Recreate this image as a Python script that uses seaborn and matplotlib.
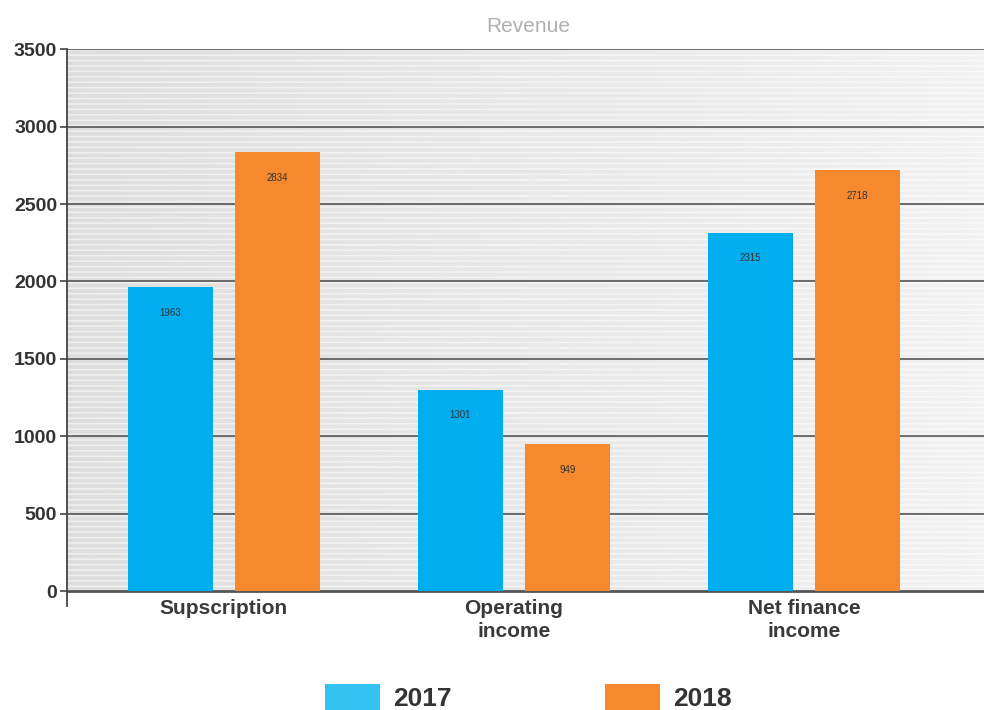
import numpy as np
import pandas as pd
import matplotlib
matplotlib.use("Agg")
import matplotlib.pyplot as plt
import seaborn as sns
from matplotlib.patches import Patch

categories = ["Supscription", "Operating\nincome", "Net finance\nincome"]
years = ["2017", "2018"]
values_2017 = [1963, 1301, 2315]
values_2018 = [2834, 949, 2718]
yticks = [0, 500, 1000, 1500, 2000, 2500, 3000, 3500]

df = pd.DataFrame({
    "category": categories * 2,
    "year": [years[0]] * 3 + [years[1]] * 3,
    "value": values_2017 + values_2018,
})

sns.set_theme(style="white")
plt.rcParams["font.family"] = ["Liberation Sans", "DejaVu Sans"]

colors = {"2017": "#00AEEF", "2018": "#F6892E"}

fig = plt.figure(figsize=(9.84, 7.1), dpi=100)
ax = fig.add_axes([0.068, 0.1676, 0.932, 0.763])

# striped gradient background
h, w = 700, 200
rows = np.arange(h)
stripe = ((rows % 7) < 2).astype(float)[:, None]
grad = np.linspace(0.87, 0.95, w)[None, :]
base = grad * np.ones((h, 1))
img = base + stripe * (1 - base) * 0.55
img = np.clip(img, 0, 1)
rgb = np.dstack([img, img, img])
ax.imshow(rgb, extent=[-0.54, 2.62, 0, 3500], aspect="auto", zorder=0, origin="upper")

sns.barplot(data=df, x="category", y="value", hue="year", palette=colors,
            width=0.738, gap=0.206, ax=ax, legend=False, zorder=3,
            saturation=1, linewidth=0, edgecolor="none")

for c in ax.containers:
    ax.bar_label(c, labels=[f"{v:.0f}" for v in c.datavalues], padding=-22,
                 fontsize=7, color="#333333", zorder=4)

ax.set_xlim(-0.54, 2.62)
ax.set_ylim(0, 3500)
ax.set_yticks(yticks)
ax.set_yticklabels([str(t) for t in yticks], fontsize=14, fontweight="bold", color="#333333")
ax.tick_params(axis="y", length=5, width=1.2, color="#444444", pad=2, left=True)
ax.tick_params(axis="x", length=0, pad=6)
ax.set_xticklabels(categories, fontsize=15, fontweight="bold", color="#3a3a3a",
                   linespacing=1.25, fontstretch="condensed")
ax.set_xlabel("")
ax.set_ylabel("")

for t in yticks[1:]:
    ax.axhline(t, color="#555555", lw=1.2, zorder=2)

for s in ["top", "right"]:
    ax.spines[s].set_visible(False)
ax.spines["left"].set_color("#444444")
ax.spines["left"].set_linewidth(1.3)
ax.spines["left"].set_bounds(-100, 3500)
ax.spines["bottom"].set_color("#555555")
ax.spines["bottom"].set_linewidth(2)
ax.spines["left"].set_zorder(5)

fig.text(0.537, 0.962, "Revenue", ha="center", va="center", fontsize=15,
         color="#b0b0b0")

handles = [Patch(facecolor="#33C3F2", edgecolor="none"),
           Patch(facecolor="#F6892E", edgecolor="none")]
fig.legend(handles, years, loc="lower center", bbox_to_anchor=(0.537, -0.035), ncol=2,
           frameon=False, prop={"size": 19, "weight": "bold"}, handlelength=2.1,
           handleheight=1.1, columnspacing=5.8, handletextpad=0.5, labelcolor="#333333")

fig.savefig("out.png", dpi=100)
